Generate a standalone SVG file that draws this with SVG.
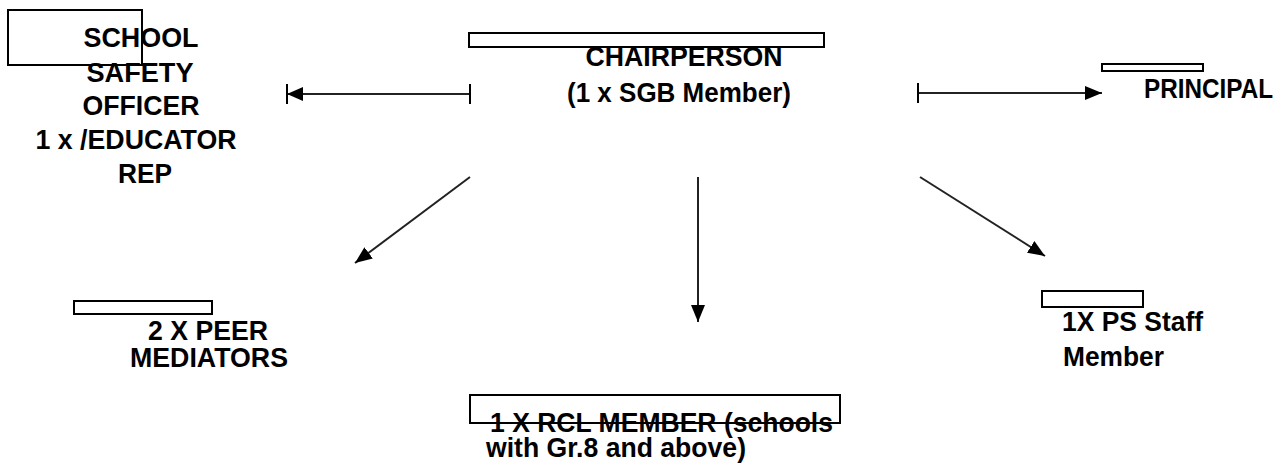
<svg xmlns="http://www.w3.org/2000/svg" width="1280" height="476" viewBox="0 0 1280 476">
<style>
.box{fill:#fff;stroke:#000;stroke-width:2}
.t{font-family:"Liberation Sans",Arial,sans-serif;font-weight:bold;font-size:27.5px;fill:#000}
.m{text-anchor:middle}
.c{stroke:#222;stroke-width:2;fill:none}
</style>
<defs>
<marker id="arrow" viewBox="0 0 17 14" refX="17" refY="7" markerWidth="17" markerHeight="14" markerUnits="userSpaceOnUse" orient="auto">
<path d="M0,0 L17,7 L0,14 z" fill="#000"/>
</marker>
<marker id="arrowbar" viewBox="0 0 18 20" refX="16" refY="10" markerWidth="18" markerHeight="20" markerUnits="userSpaceOnUse" orient="auto">
<path d="M0,3 L16,10 L0,17 z" fill="#000"/>
<path d="M16,0 L16,20" stroke="#000" stroke-width="2"/>
</marker>
<marker id="bar" viewBox="-2 0 4 20" refX="0" refY="10" markerWidth="4" markerHeight="20" markerUnits="userSpaceOnUse" orient="auto">
<path d="M0,0 L0,20" stroke="#000" stroke-width="2"/>
</marker>
</defs>
<g id="connectors">
<line class="c" x1="470" y1="94" x2="287" y2="94" marker-start="url(#bar)" marker-end="url(#arrowbar)"/>
<line class="c" x1="918" y1="93" x2="1102" y2="93" marker-start="url(#bar)" marker-end="url(#arrow)"/>
<line class="c" x1="698" y1="177" x2="698" y2="322" marker-end="url(#arrow)"/>
<line class="c" x1="470" y1="177" x2="355" y2="263" marker-end="url(#arrow)"/>
<line class="c" x1="920" y1="177" x2="1045" y2="256" marker-end="url(#arrow)"/>
</g>
<g id="safety-officer">
<rect class="box" x="8" y="10" width="134" height="55" style="fill:none"/>
<text class="t m" x="141" y="47" textLength="115" lengthAdjust="spacingAndGlyphs">SCHOOL</text>
<text class="t m" x="140" y="82" textLength="107" lengthAdjust="spacingAndGlyphs">SAFETY</text>
<text class="t m" x="141" y="115" textLength="117" lengthAdjust="spacingAndGlyphs">OFFICER</text>
<text class="t m" x="136" y="149" textLength="201" lengthAdjust="spacingAndGlyphs">1 x /EDUCATOR</text>
<text class="t m" x="145" y="183" textLength="54" lengthAdjust="spacingAndGlyphs">REP</text>
</g>
<g id="chairperson">
<rect class="box" x="469" y="33" width="355" height="14"/>
<text class="t m" x="684" y="66" textLength="197" lengthAdjust="spacingAndGlyphs">CHAIRPERSON</text>
<text class="t m" x="679" y="102" textLength="224" lengthAdjust="spacingAndGlyphs">(1 x SGB Member)</text>
</g>
<g id="principal">
<rect class="box" x="1102" y="64" width="101" height="7"/>
<text class="t" x="1144" y="98" textLength="129" lengthAdjust="spacingAndGlyphs">PRINCIPAL</text>
</g>
<g id="peer-mediators">
<rect class="box" x="74" y="301" width="138" height="13"/>
<text class="t m" x="208" y="340" textLength="120" lengthAdjust="spacingAndGlyphs">2 X PEER</text>
<text class="t m" x="209" y="367" textLength="158" lengthAdjust="spacingAndGlyphs">MEDIATORS</text>
</g>
<g id="ps-staff">
<rect class="box" x="1042" y="291" width="101" height="16"/>
<text class="t" x="1062" y="331" textLength="141" lengthAdjust="spacingAndGlyphs">1X PS Staff</text>
<text class="t" x="1063" y="366" textLength="101" lengthAdjust="spacingAndGlyphs">Member</text>
</g>
<g id="rcl-member">
<rect class="box" x="470" y="395" width="370" height="28" style="fill:none"/>
<text class="t" x="490" y="432" textLength="343" lengthAdjust="spacingAndGlyphs">1 X RCL MEMBER (schools</text>
<text class="t" x="486" y="457" textLength="260" lengthAdjust="spacingAndGlyphs">with Gr.8 and above)</text>
</g>
</svg>
